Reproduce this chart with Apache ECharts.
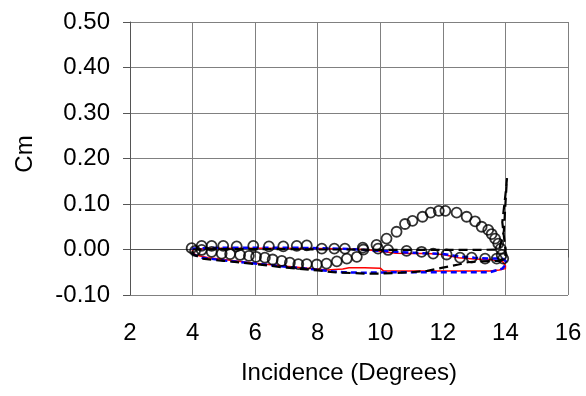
<!DOCTYPE html>
<html>
<head>
<meta charset="utf-8">
<script src="https://cdn.jsdelivr.net/npm/echarts@6/dist/echarts.min.js"></script>
<style>
  html, body { margin: 0; padding: 0; background: #fff; }
  #chart { width: 586px; height: 396px; }
</style>
</head>
<body>
<div id="chart"></div>
<script>
// Pitching moment coefficient loops against incidence
const xTicks = [2, 4, 6, 8, 10, 12, 14, 16];
const yTicks = [-0.10, 0.00, 0.10, 0.20, 0.30, 0.40, 0.50];

// Measured loop (open circles)
const expAlpha = [3.97, 4.08, 4.29, 4.61, 4.93, 5.20, 5.52, 5.80, 6.03, 6.31, 6.56, 6.85, 7.11, 7.38, 7.65, 7.97, 8.28, 8.61, 8.93, 9.25, 9.46, 9.88, 10.20, 10.52, 10.79, 11.03, 11.35, 11.61, 11.87, 12.08, 12.44, 12.76, 13.03, 13.24, 13.45, 13.56, 13.67, 13.77, 13.85, 13.88, 13.93, 13.72, 13.35, 12.92, 12.55, 12.12, 11.69, 11.32, 10.84, 10.25, 9.93, 9.44, 8.87, 8.53, 8.13, 7.65, 7.33, 6.90, 6.44, 5.94, 5.41, 4.98, 4.61, 4.29];
const expCm = [0.003, -0.003, -0.001, -0.005, -0.009, -0.010, -0.012, -0.014, -0.016, -0.018, -0.022, -0.025, -0.029, -0.032, -0.032, -0.033, -0.031, -0.026, -0.020, -0.016, 0.000, 0.010, 0.024, 0.039, 0.056, 0.063, 0.072, 0.081, 0.085, 0.085, 0.081, 0.072, 0.062, 0.050, 0.043, 0.034, 0.024, 0.013, 0.002, -0.012, -0.020, -0.020, -0.020, -0.018, -0.018, -0.011, -0.009, -0.005, -0.003, -0.001, 0.002, 0.004, 0.002, 0.002, 0.002, 0.009, 0.008, 0.007, 0.007, 0.008, 0.007, 0.008, 0.008, 0.008];

// Red solid model loop
const redAlpha = [4.0, 4.5, 5.0, 6.0, 7.0, 8.0, 9.0, 9.5, 10.0, 10.5, 11.0, 11.5, 12.0, 12.5, 13.0, 13.5, 13.9, 14.0, 14.0, 13.8, 13.5, 13.0, 12.0, 11.0, 10.1, 10.0, 9.5, 9.0, 8.8, 8.3, 7.5, 7.0, 6.0, 5.0, 4.5, 4.1, 4.0, 4.0];
const redCm = [0.000, 0.002, 0.003, 0.003, 0.003, 0.002, 0.001, 0.000, -0.004, -0.008, -0.009, -0.009, -0.011, -0.018, -0.021, -0.022, -0.026, -0.035, -0.042, -0.045, -0.047, -0.047, -0.047, -0.047, -0.047, -0.041, -0.040, -0.040, -0.043, -0.045, -0.040, -0.037, -0.030, -0.022, -0.018, -0.012, -0.005, 0.000];

// Blue dashed model loop
const blueAlpha = [4.0, 5.0, 6.0, 7.0, 8.0, 9.0, 10.0, 11.0, 12.0, 12.5, 13.0, 13.5, 13.9, 14.0, 14.05, 13.9, 13.5, 12.5, 11.5, 10.5, 9.5, 8.8, 8.3, 7.5, 7.0, 6.0, 5.0, 4.3, 4.0, 4.0];
const blueCm = [0.002, 0.004, 0.004, 0.004, 0.003, 0.001, -0.003, -0.007, -0.010, -0.015, -0.018, -0.020, -0.020, -0.025, -0.030, -0.042, -0.050, -0.050, -0.050, -0.050, -0.051, -0.050, -0.047, -0.041, -0.038, -0.031, -0.024, -0.018, -0.010, 0.002];

// Black dashed model loop, with the spike near maximum incidence
const blackAlpha = [4.0, 5.0, 6.0, 7.0, 8.0, 9.0, 10.0, 11.0, 12.0, 13.0, 13.8, 13.95, 14.0, 14.05, 14.0, 13.95, 13.9, 13.95, 14.0, 14.0, 13.8, 13.2, 12.8, 12.5, 12.0, 11.5, 11.0, 10.0, 9.5, 8.5, 8.0, 7.0, 6.0, 5.0, 4.3, 4.0, 4.0];
const blackCm = [0.000, 0.001, 0.001, 0.001, 0.000, 0.000, -0.001, -0.001, -0.001, -0.001, 0.000, 0.040, 0.100, 0.157, 0.120, 0.090, 0.060, 0.030, 0.000, -0.020, -0.025, -0.026, -0.028, -0.033, -0.040, -0.047, -0.050, -0.053, -0.053, -0.050, -0.046, -0.040, -0.032, -0.025, -0.020, -0.010, 0.000];

function pairs(xs, ys) {
  return xs.map((x, i) => [x, ys[i]]);
}

const chart = echarts.init(document.getElementById('chart'), null, { renderer: 'canvas' });
const font = 'Liberation Sans, Arial, sans-serif';

chart.setOption({
  animation: false,
  backgroundColor: '#ffffff',
  grid: { left: 130, right: 18, top: 22, bottom: 101, containLabel: false },
  xAxis: {
    type: 'value',
    min: xTicks[0],
    max: xTicks[xTicks.length - 1],
    interval: 2,
    name: 'Incidence (Degrees)',
    nameLocation: 'middle',
    nameGap: 66,
    nameTextStyle: { fontFamily: font, fontSize: 24, color: '#000' },
    axisLine: { show: true, lineStyle: { color: '#555', width: 1 } },
    axisTick: { show: true, inside: false, length: 8, lineStyle: { color: '#555' } },
    axisLabel: { fontFamily: font, fontSize: 24, color: '#000', margin: 26 },
    splitLine: { show: true, lineStyle: { color: '#808080', width: 1 } }
  },
  yAxis: {
    type: 'value',
    min: yTicks[0],
    max: yTicks[yTicks.length - 1],
    interval: 0.1,
    name: 'Cm',
    nameLocation: 'middle',
    nameGap: 93,
    nameRotate: 90,
    nameTextStyle: { fontFamily: font, fontSize: 24, color: '#000', padding: [0, 0, 0, 9] },
    axisLine: { show: true, lineStyle: { color: '#555', width: 1 } },
    axisTick: { show: true, inside: false, length: 7, lineStyle: { color: '#555' } },
    axisLabel: {
      fontFamily: font, fontSize: 24, color: '#000', margin: 20,
      formatter: v => v.toFixed(2)
    },
    splitLine: { show: true, lineStyle: { color: '#808080', width: 1 } }
  },
  series: [
    {
      name: 'red',
      type: 'line',
      data: pairs(redAlpha, redCm),
      showSymbol: false,
      lineStyle: { color: '#ff0000', width: 1.5 },
      z: 2
    },
    {
      name: 'blue',
      type: 'line',
      data: pairs(blueAlpha, blueCm),
      showSymbol: false,
      lineStyle: { color: '#0000ff', width: 2.5, type: [6, 4] },
      z: 3
    },
    {
      name: 'black',
      type: 'line',
      data: pairs(blackAlpha, blackCm),
      showSymbol: false,
      lineStyle: { color: '#000000', width: 2.2, type: [9, 5] },
      z: 4
    },
    {
      name: 'exp',
      type: 'scatter',
      data: pairs(expAlpha, expCm),
      symbol: 'circle',
      symbolSize: 10,
      itemStyle: { color: 'rgba(0,0,0,0)', borderColor: '#000', borderWidth: 1.8 },
      z: 5
    }
  ]
});
</script>
</body>
</html>
